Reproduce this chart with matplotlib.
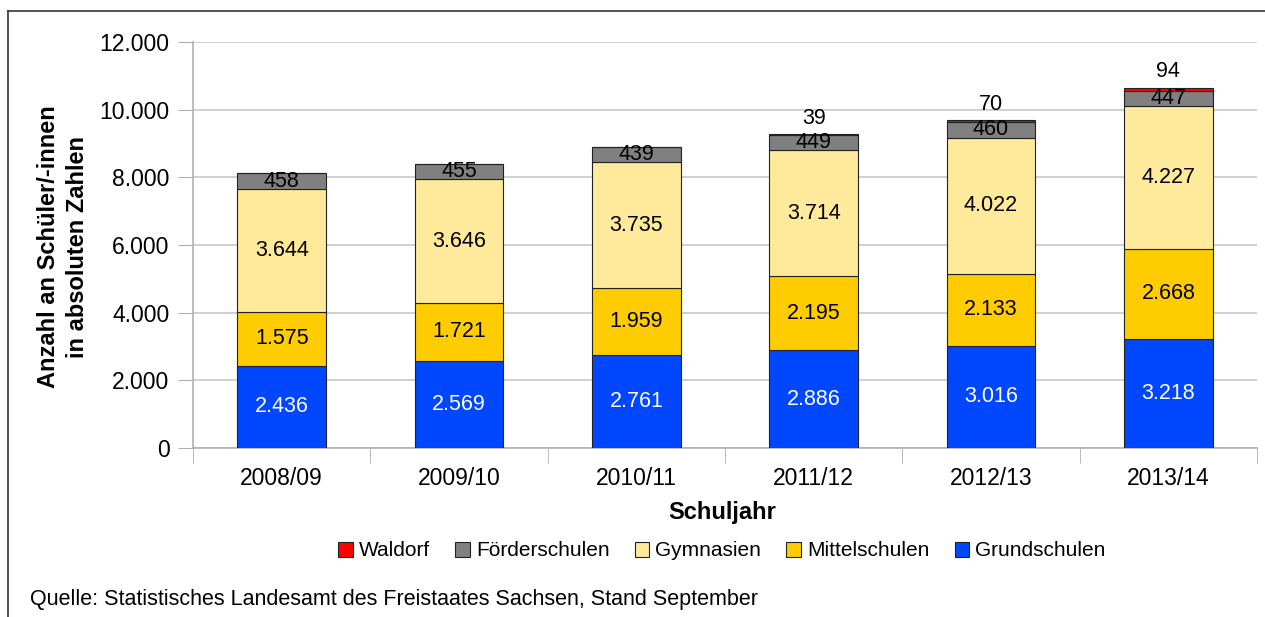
import matplotlib
matplotlib.use("Agg")
import matplotlib.pyplot as plt
import numpy as np
from matplotlib.ticker import FuncFormatter, FixedLocator

plt.rcParams['font.family'] = ['Liberation Sans', 'DejaVu Sans']

# Daten (Schüler/-innen in freier Trägerschaft, Sachsen)
years = ["2008/09", "2009/10", "2010/11", "2011/12", "2012/13", "2013/14"]
grundschulen = [2436, 2569, 2761, 2886, 3016, 3218]
mittelschulen = [1575, 1721, 1959, 2195, 2133, 2668]
gymnasien = [3644, 3646, 3735, 3714, 4022, 4227]
foerderschulen = [458, 455, 439, 449, 460, 447]
waldorf = [0, 0, 0, 39, 70, 94]

series = [
    ("Grundschulen", grundschulen, "#0047FF"),
    ("Mittelschulen", mittelschulen, "#FFCC00"),
    ("Gymnasien", gymnasien, "#FFE99A"),
    ("Förderschulen", foerderschulen, "#808080"),
    ("Waldorf", waldorf, "#FF0000"),
]


def de_fmt(v):
    return f"{int(v):,}".replace(",", ".")


fig = plt.figure(figsize=(12.65, 6.17), dpi=100)
ax = fig.add_axes([0.1526, 0.2739, 0.8411, 0.6581])

x = np.arange(len(years))
bottom = np.zeros(len(years))
handles = {}
for name, vals, col in series:
    vals = np.array(vals, dtype=float)
    bars = ax.bar(x, vals, 0.5, bottom=bottom, color=col, edgecolor="#222222",
                  linewidth=0.8, zorder=3, label=name)
    handles[name] = bars
    for xi, b, v in zip(x, bottom, vals):
        if v <= 0:
            continue
        if name == "Waldorf":
            ax.text(xi, b + v + 150, de_fmt(v), ha="center", va="bottom",
                    fontsize=15.5, color="black", zorder=4)
        else:
            ax.text(xi, b + v / 2, de_fmt(v), ha="center", va="center",
                    fontsize=15.5, zorder=4,
                    color="white" if name == "Grundschulen" else "black")
    bottom += vals

ax.set_xlim(-0.5, len(years) - 0.5)
ax.set_ylim(0, 12000)
ax.set_yticks(np.arange(0, 12001, 2000))
ax.yaxis.set_major_formatter(FuncFormatter(lambda v, p: de_fmt(v)))
ax.set_xticks(x)
ax.set_xticklabels(years)
ax.xaxis.set_minor_locator(FixedLocator(np.arange(-0.5, len(years), 1.0)))
ax.tick_params(axis="x", which="major", length=0, labelsize=16.5, pad=14)
ax.tick_params(axis="x", which="minor", length=11, color="#B0B0B0")
ax.tick_params(axis="y", length=11, color="#B0B0B0", labelsize=16.5, pad=6)

ax.yaxis.grid(True, color="#C8C8C8", linewidth=1.2, zorder=0)
ax.set_axisbelow(True)
for s in ["top", "right"]:
    ax.spines[s].set_visible(False)
for s in ["left", "bottom"]:
    ax.spines[s].set_color("#B0B0B0")
    ax.spines[s].set_linewidth(1.2)

fig.text(63 / 1265, 1 - 247 / 617, "Anzahl an Schüler/-innen\nin absoluten Zahlen",
         rotation=90, fontsize=17, fontweight="bold", ha="center", va="center",
         multialignment="center", linespacing=1.3)
fig.text(722 / 1265, 1 - 512 / 617, "Schuljahr", fontsize=17, fontweight="bold",
         ha="center", va="center")

order = ["Waldorf", "Förderschulen", "Gymnasien", "Mittelschulen", "Grundschulen"]
fig.legend([handles[n] for n in order], order, loc="center",
           bbox_to_anchor=(722 / 1265, 1 - 551 / 617), ncol=5, frameon=False,
           fontsize=15, handlelength=0.7, handleheight=0.7, handletextpad=0.3,
           columnspacing=1.2)

fig.text(30 / 1265, 1 - 600 / 617,
         "Quelle: Statistisches Landesamt des Freistaates Sachsen, Stand September",
         fontsize=15.5, ha="left", va="center")

# Rahmen
fig.add_artist(plt.Line2D([8 / 1265, 8 / 1265], [0, 1 - 11 / 617],
                          transform=fig.transFigure, color="#333333", linewidth=1.2))
fig.add_artist(plt.Line2D([8 / 1265, 1], [1 - 11 / 617, 1 - 11 / 617],
                          transform=fig.transFigure, color="#333333", linewidth=1.2))

fig.savefig("out.png", dpi=100)
